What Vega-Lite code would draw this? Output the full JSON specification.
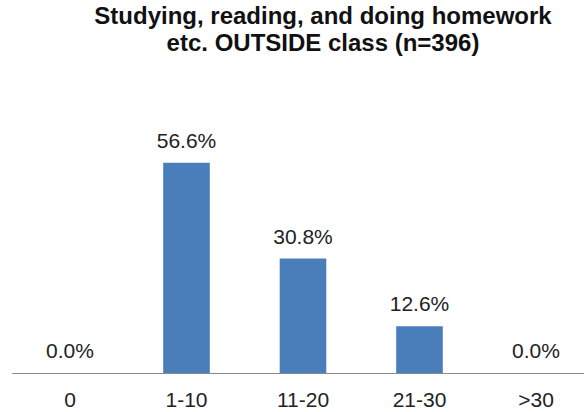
{
  "$schema": "https://vega.github.io/schema/vega-lite/v6.json",
  "width": 584,
  "height": 223,
  "autosize": "none",
  "padding": {"top": 150, "left": 0, "right": 0, "bottom": 39},
  "background": "white",
  "config": {"view": {"stroke": null}, "font": "Liberation Sans"},
  "title": {
    "text": ["Studying, reading, and doing homework", "etc. OUTSIDE class (n=396)"],
    "anchor": "middle",
    "frame": "group",
    "dx": 31,
    "offset": 75,
    "fontSize": 24,
    "lineHeight": 27,
    "fontWeight": "bold",
    "color": "#111111",
    "font": "Liberation Sans"
  },
  "data": {
    "values": [
      {"category": "0", "share": 0.0},
      {"category": "1-10", "share": 0.566},
      {"category": "11-20", "share": 0.308},
      {"category": "21-30", "share": 0.126},
      {"category": ">30", "share": 0.0}
    ]
  },
  "encoding": {
    "x": {
      "field": "category",
      "type": "nominal",
      "sort": null,
      "scale": {"range": [11.75, 594.25], "paddingInner": 0.6, "paddingOuter": 0.3},
      "axis": {
        "title": null,
        "labelAngle": 0,
        "ticks": false,
        "domainColor": "#8a8a8a",
        "domainWidth": 1.2,
        "labelFontSize": 21,
        "labelColor": "#222222",
        "labelPadding": 16,
        "labelFont": "Liberation Sans"
      }
    },
    "y": {
      "field": "share",
      "type": "quantitative",
      "scale": {"domain": [0, 0.6], "nice": false},
      "axis": null
    }
  },
  "layer": [
    {
      "mark": {"type": "bar", "color": "#4a7ebb"}
    },
    {
      "mark": {"type": "text", "baseline": "alphabetic", "dy": -15, "fontSize": 21, "color": "#222222", "font": "Liberation Sans"},
      "encoding": {
        "text": {"field": "share", "type": "quantitative", "format": ".1%"}
      }
    }
  ]
}
